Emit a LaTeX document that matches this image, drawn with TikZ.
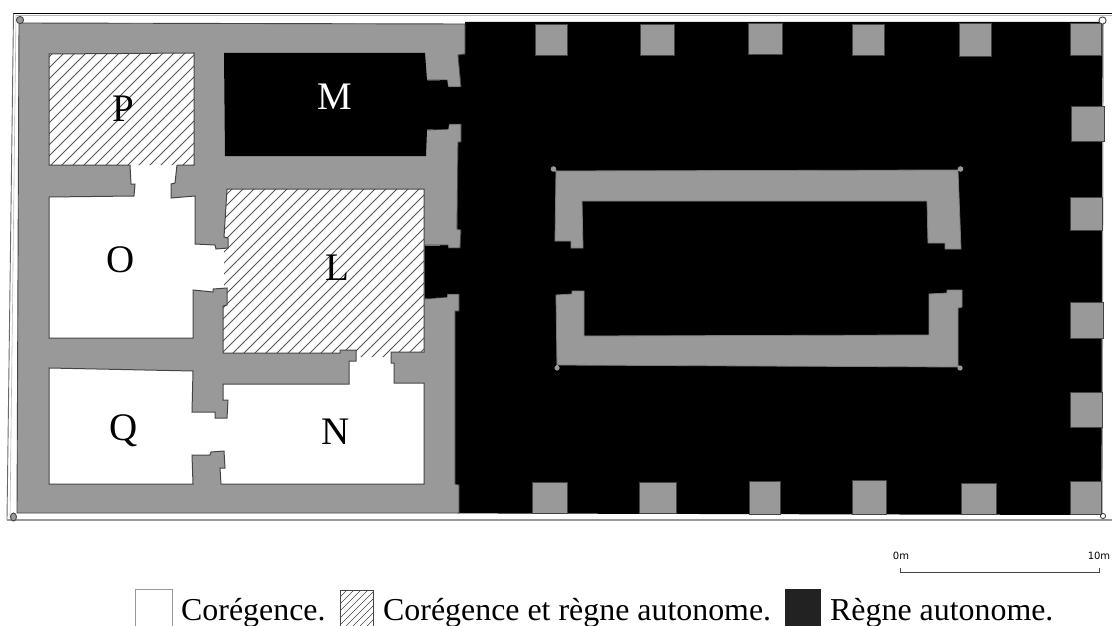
\documentclass[tikz,border=0pt]{standalone}
\usepackage{fontspec}
\setmainfont{Liberation Serif}
\newfontfamily\scalefont{DejaVu Sans}
\definecolor{wallc}{HTML}{999999}
\definecolor{edgec}{HTML}{444444}
\definecolor{hatchc}{HTML}{555555}
\definecolor{legdark}{HTML}{222222}
\tikzset{
  wallfill/.style={fill=wallc,draw=edgec,line width=0.9pt,line join=miter},
  edgeline/.style={draw=edgec,line width=1pt,line join=miter},
  hatchline/.style={draw=hatchc,line width=0.75pt},
  roomlabel/.style={font=\fontsize{39}{39}\selectfont,inner sep=0pt},
  legendtext/.style={font=\fontsize{31.9}{32}\selectfont,inner sep=0pt,anchor=base west},
  scaletext/.style={font=\scalefont\fontsize{10}{10}\selectfont,inner sep=0pt},
  pillar/.style={fill=wallc,draw=edgec,line width=0.8pt},
  innerwall/.style={fill=wallc,draw=wallc!80!black,line width=0.8pt},
  stub/.style={draw=wallc,line width=2pt},
}
\begin{document}
\begin{tikzpicture}[x=1pt,y=-1pt]
\useasboundingbox (0,0) rectangle (1112,626);
% outer thin lines
\draw[black,line width=1.3pt] (13,13.5) -- (1112,13.5);
\draw[edgec!80,line width=0.9pt] (13.5,13.5) -- (7,520);
\draw[wallc,line width=1.2pt] (7,520) -- (1112,520);
\draw[wallc!70,line width=0.6pt] (16,15.5) -- (10,518);
\draw[wallc!70,line width=0.6pt] (16,15.5) -- (1112,15.5);
% black hall
\fill[black] (465,22) -- (1103,22) -- (1102,515) -- (459,513.4) -- (440,510) -- (440,30) -- (465,30) -- cycle;
\draw[wallc,line width=1.3pt] (1103,24) -- (1102,514);
% wall block
\draw[wallfill] (19,23) -- (465,24) -- (465,54) -- (458,55) -- (461,87) -- (448,87) -- (447,80) -- (427,80)
 -- (427,130) -- (448,129) -- (449,124) -- (461,124) -- (461,142) -- (458,142) -- (457,229) -- (461,230)
 -- (460,248) -- (448,248) -- (448,245) -- (425,245) -- (424,299) -- (447,297) -- (447,294) -- (459,294)
 -- (459,311) -- (455,311) -- (455,484) -- (459,485) -- (459,513) -- (17,513) -- cycle;
% corner marks
\draw[wallfill] (20,20) circle (3.6);
\draw[wallfill] (13.5,517) ellipse (3 and 4);
\draw[fill=white,draw=edgec,line width=0.9pt] (1102.5,20.5) circle (3.6);
\draw[fill=white,draw=edgec,line width=0.9pt] (1103,516) circle (2.6);
% room M and the two doors on the hall
\fill[black] (224,53) -- (425,53) -- (427,80) -- (427,130) -- (426,156) -- (225,156) -- cycle;
\fill[black] (427,80.5) -- (447,80.5) -- (448,87.5) -- (466,87.5) -- (466,123.5) -- (449,123.5) -- (448,129) -- (427,129.5) -- cycle;
\fill[black] (424.5,245.5) -- (448,245.5) -- (448,248.5) -- (470,248.5) -- (470,293.5) -- (447,293.5) -- (447,297) -- (424.5,298.5) -- cycle;
% white rooms
\fill[white] (49,197) -- (134,196) -- (135,184) -- (131,184) -- (130,165) -- (177,165) -- (175,183) -- (171,184)
 -- (171,198) -- (195,196) -- (195,244) -- (215,245) -- (216,249) -- (224,249) -- (224,288) -- (213,289)
 -- (213,292) -- (193,290) -- (193,338) -- (49,338) -- cycle;
\fill[white] (49,368) -- (193,371) -- (192,412) -- (215,412) -- (215,418) -- (227,418) -- (228,400) -- (223,400)
 -- (223,384) -- (349,384) -- (349,361) -- (356,361) -- (356,356) -- (391,356) -- (391,363) -- (394,363)
 -- (394,383) -- (424,383) -- (424,484) -- (221,484) -- (220,468) -- (225,468) -- (224,451) -- (211,452)
 -- (210,455) -- (192,455) -- (193,484) -- (49,484) -- cycle;
% hatched room P
\fill[white] (49,54) -- (194,53) -- (194,165) -- (49,165) -- cycle;
\begin{scope}
\clip (49,54) -- (194,53) -- (194,165) -- (49,165) -- cycle;
\foreach \k in {50,61,...,380} \draw[hatchline] (\k,45) -- (\k-130,175);
\end{scope}
% hatched room L
\fill[white] (227,189) -- (424,189) -- (424,352) -- (391,352) -- (391,356) -- (356,356) -- (356,350) -- (340,350)
 -- (340,353) -- (223,353) -- (223,306) -- (227,305) -- (227,288) -- (224,288) -- (224,249) -- (228,248) -- (228,238) -- (224,237) -- cycle;
\begin{scope}
\clip (227,189) -- (424,189) -- (424,352) -- (391,352) -- (391,357) -- (356,357) -- (356,350) -- (340,350)
 -- (340,353) -- (223,353) -- (223,306) -- (227,305) -- (227,288) -- (224,288) -- (224,249) -- (228,248) -- (228,238) -- (224,237) -- cycle;
\foreach \k in {230,241,...,800} \draw[hatchline] (\k,180) -- (\k-190,370);
\end{scope}
% room edges
\draw[edgeline] (130,165) -- (49,165) -- (49,54) -- (194,53) -- (194,165) -- (177,165);
\draw[edgeline] (130,165) -- (131,184) -- (135,184) -- (134,196) -- (49,197) -- (49,338) -- (193,338) -- (193,290)
 -- (213,292) -- (213,289) -- (227,288) -- (227,305) -- (223,306) -- (223,353) -- (340,353) -- (340,350)
 -- (356,350) -- (356,361) -- (349,361) -- (349,384) -- (223,384) -- (223,400) -- (228,400) -- (227,418)
 -- (215,418) -- (215,412) -- (192,412) -- (193,371) -- (49,368) -- (49,484) -- (193,484) -- (192,455)
 -- (210,455) -- (211,452) -- (224,451) -- (225,468) -- (220,468) -- (221,484) -- (424,484) -- (424,383)
 -- (394,383) -- (394,363) -- (391,363) -- (391,352) -- (424,352) -- (424,189) -- (227,189) -- (224,237)
 -- (228,238) -- (228,248) -- (216,249) -- (215,245) -- (195,244) -- (195,196) -- (171,198) -- (171,184)
 -- (175,183) -- (177,165);
% inner building
\draw[stub] (556,171) -- (553.5,169);
\draw[stub] (958,170) -- (960.5,169);
\draw[stub] (557,365) -- (557,368);
\draw[stub] (958,366) -- (960,368);
\draw[innerwall] (556,171) -- (958,170) -- (961,249) -- (945,249) -- (945,243) -- (928,243) -- (927,201) -- (582,201)
 -- (583,248) -- (571,248) -- (571,241) -- (555,241) -- cycle;
\draw[innerwall] (556,295) -- (572,294) -- (572,291) -- (584,291) -- (584,336) -- (929,335) -- (929,294) -- (947,293)
 -- (947,290) -- (962,290) -- (962,307) -- (958,308) -- (958,367) -- (557,365) -- cycle;
\fill[wallc] (553.5,169) circle (2.8);
\fill[wallc] (960.5,169) circle (2.8);
\fill[wallc] (557,368) circle (2.6);
\fill[wallc] (960,368) circle (2.6);
% pillars
\draw[pillar] (535,24) rectangle (567,55);
\draw[pillar] (640.5,24) rectangle (674,55);
\draw[pillar] (748,23) rectangle (782,54);
\draw[pillar] (852,24) rectangle (884,55);
\draw[pillar] (959,23) rectangle (991,56);
\draw[pillar] (1070,23) rectangle (1101,55);
\draw[pillar] (1071,106) rectangle (1104,141);
\draw[pillar] (1070,197) rectangle (1102,230);
\draw[pillar] (1070,302) rectangle (1103,338);
\draw[pillar] (1070,392) rectangle (1102,427);
\draw[pillar] (532,482) rectangle (567,513);
\draw[pillar] (639,482) rectangle (676,513);
\draw[pillar] (749,481) rectangle (780,514);
\draw[pillar] (852,480) rectangle (886,514);
\draw[pillar] (961,483) rectangle (996,514);
\draw[pillar] (1070,481) rectangle (1101,514);
% room labels
\node[roomlabel] (P) at (123,109) {P};
\node[roomlabel,text=white] (M) at (335,97) {M};
\node[roomlabel] (O) at (121,260) {O};
\node[roomlabel] (L) at (337,268) {L};
\node[roomlabel] (Q) at (124,431) {Q};
\node[roomlabel] (N) at (336,432) {N};
% scale
\draw[edgec,line width=0.9pt] (900,568) -- (900,572) -- (1099,572) -- (1099,568);
\node[scaletext] (s0) at (901,556) {0m};
\node[scaletext] (s1) at (1099,556) {10m};
% legend
\draw[wallc,line width=0.7pt] (135,626) -- (135,589.5) -- (172,589.5) -- (172,626);
\begin{scope}
\clip (340,590) rectangle (373,626);
\foreach \k in {340,347,...,420} \draw[edgec,line width=0.6pt] (\k,590) -- (\k-36,626);
\end{scope}
\draw[edgec,line width=0.7pt] (340,626) -- (340,590) -- (373,590) -- (373,626);
\fill[legdark] (785,589) rectangle (821,626);
\node[legendtext] (t1) at (181,620.5) {Corégence.};
\node[legendtext] (t2) at (383,620.5) {Corégence et règne autonome.};
\node[legendtext] (t3) at (830,620.5) {Règne autonome.};
\end{tikzpicture}
\end{document}
